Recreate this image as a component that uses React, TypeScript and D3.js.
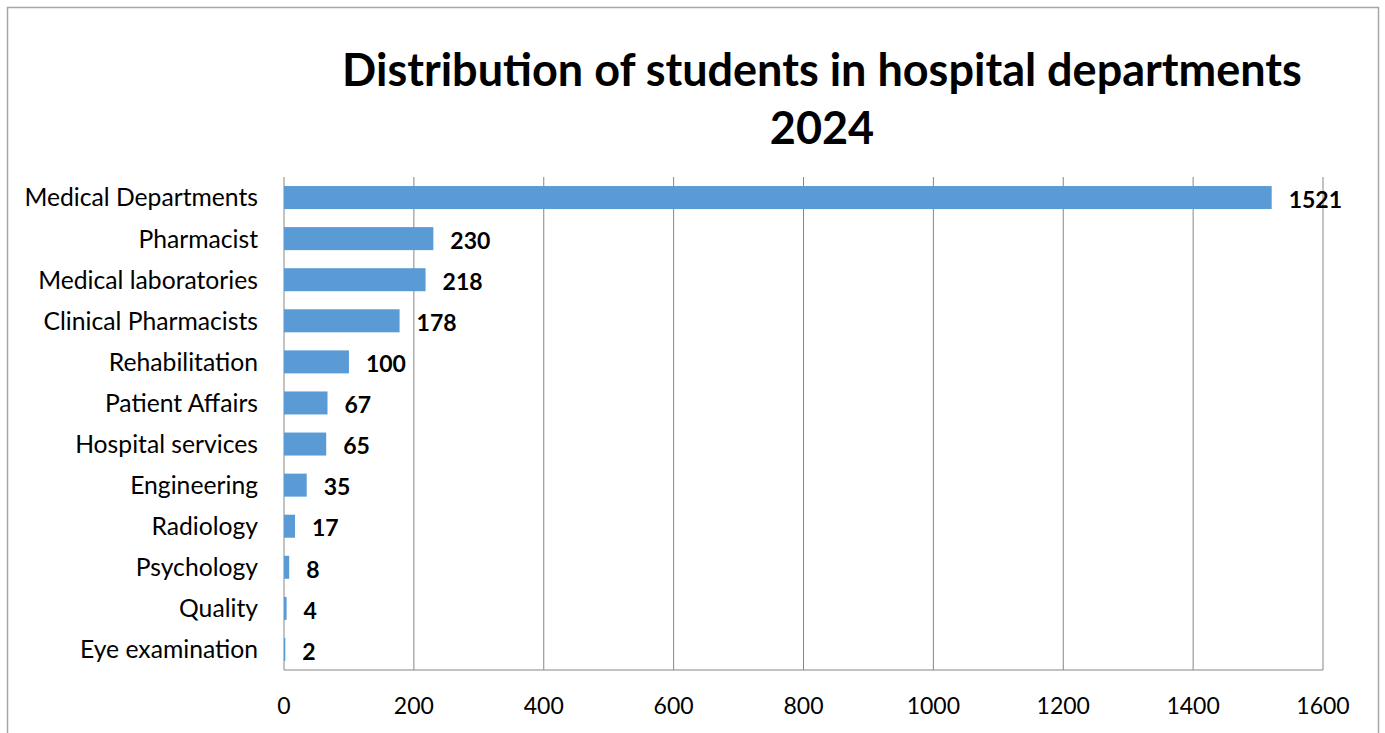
import React from "react";
import * as d3 from "d3";

const categories = [
  "Medical Departments",
  "Pharmacist",
  "Medical laboratories",
  "Clinical Pharmacists",
  "Rehabilitation",
  "Patient Affairs",
  "Hospital services",
  "Engineering",
  "Radiology",
  "Psychology",
  "Quality",
  "Eye examination",
];
const values = [1521, 230, 218, 178, 100, 67, 65, 35, 17, 8, 4, 2];
const xTicks = [0, 200, 400, 600, 800, 1000, 1200, 1400, 1600];
const titleLines = ["Distribution of students in hospital departments", "2024"];

const W = 1385;
const H = 733;
const FONT = "Lato, 'Open Sans', sans-serif";

export default function App() {
  const left = 284;
  const right = 1323;
  const top = 177;
  const bottom = 670;
  const x = d3.scaleLinear().domain([0, 1600]).range([left, right]);
  const y = d3
    .scaleBand<string>()
    .domain(categories)
    .range([top, bottom])
    .paddingInner(0.44)
    .paddingOuter(0.22);

  return (
    <svg
      width={W}
      height={H}
      style={{ position: "absolute", left: 0, top: 0, background: "#fff" }}
      fontFamily={FONT}
    >
      <rect x={7.5} y={7.5} width={1371} height={740} fill="#fff" stroke="#a6a6a6" strokeWidth={1.5} />
      {titleLines.map((t, i) => (
        <text
          key={i}
          x={822}
          y={86 + i * 58}
          textAnchor="middle"
          fontSize={45}
          fontWeight="bold"
          fill="#000"
        >
          {t}
        </text>
      ))}
      {xTicks.slice(1).map((t) => (
        <line key={t} x1={x(t)} x2={x(t)} y1={top} y2={bottom} stroke="#868686" strokeWidth={1} />
      ))}
      <line x1={left} x2={left} y1={top} y2={bottom} stroke="#868686" strokeWidth={1} />
      <line x1={left} x2={right} y1={bottom} y2={bottom} stroke="#868686" strokeWidth={1} />
      {categories.map((c, i) => (
        <g key={c}>
          <rect
            x={x(0)}
            y={y(c)!}
            width={Math.max(0, x(values[i]) - x(0))}
            height={y.bandwidth()}
            fill="#5b9bd5"
          />
          <text
            x={258}
            y={y(c)! + y.bandwidth() / 2}
            dy="0.36em"
            textAnchor="end"
            fontSize={24.7}
            fill="#000"
          >
            {c}
          </text>
          <text
            x={x(values[i]) + 17}
            y={y(c)! + y.bandwidth() / 2 + 2}
            dy="0.36em"
            textAnchor="start"
            fontSize={23}
            fontWeight="bold"
            fill="#000"
          >
            {values[i]}
          </text>
        </g>
      ))}
      {xTicks.map((t) => (
        <text key={t} x={x(t)} y={706} dy="0.35em" textAnchor="middle" fontSize={23} fill="#000">
          {t}
        </text>
      ))}
    </svg>
  );
}
